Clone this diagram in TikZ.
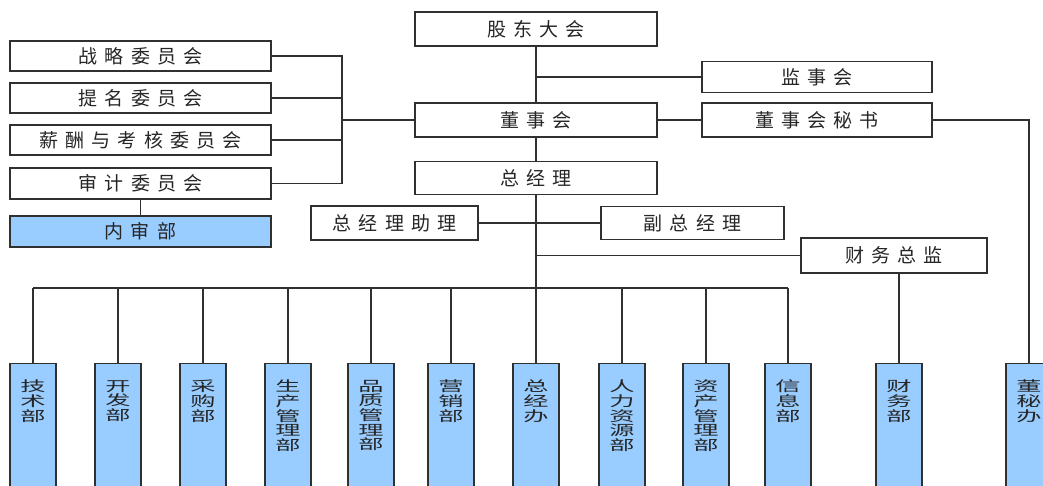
\documentclass[tikz,border=0pt]{standalone}
\usepackage{fontspec}
\newfontfamily\cjk{Noto Sans CJK SC}
\newfontfamily\cjkwide[LetterSpace=37]{Noto Sans CJK SC}
\usepackage{tikz}
\usetikzlibrary{positioning}

\definecolor{deptblue}{HTML}{99CCFF}
\definecolor{linec}{HTML}{303030}

\begin{document}
\begin{tikzpicture}[
    x=1pt, y=-1pt,
    unit/.style={rectangle,draw=linec,line width=1.2pt,fill=white,inner sep=0pt,
        font=\cjkwide\fontsize{19}{21}\selectfont,text=black!85},
    dept/.style={rectangle,draw=linec,line width=1.2pt,fill=deptblue,inner sep=0pt,
        minimum width=46pt,minimum height=140pt,anchor=north},
    vlabel/.style={anchor=north,inner sep=0pt,align=center,xscale=1.8,yshift=-17pt,
        font=\cjk\fontsize{14}{14.6}\selectfont,text=black!85},
    link/.style={draw=linec,line width=1.2pt}
]
    \useasboundingbox (0,0) rectangle (1043,486);
    \clip (0,0) rectangle (1043,486);

    % board and management
    \node[unit,minimum width=242pt,minimum height=34pt] (gd)   at (536,29)    {股东大会};
    \node[unit,minimum width=230pt,minimum height=31pt] (jsh)  at (817,77)    {监事会};
    \node[unit,minimum width=242pt,minimum height=34pt] (dsh)  at (536,120)   {董事会};
    \node[unit,minimum width=230pt,minimum height=34pt] (dms)  at (817,120)   {董事会秘书};
    \node[unit,minimum width=242pt,minimum height=33pt] (zjl)  at (536,178)   {总经理};
    \node[unit,minimum width=167pt,minimum height=34pt] (zlzl) at (394.5,223) {总经理助理};
    \node[unit,minimum width=183pt,minimum height=33pt] (fzjl) at (692.5,223) {副总经理};
    \node[unit,minimum width=186pt,minimum height=35pt] (cwzj) at (894,255.5) {财务总监};

    % committees
    \node[unit,minimum width=261pt,minimum height=30pt] (zlwy) at (140.5,56)    {战略委员会};
    \node[unit,minimum width=261pt,minimum height=30pt] (tmwy) at (140.5,98)    {提名委员会};
    \node[unit,minimum width=261pt,minimum height=30pt] (xcwy) at (140.5,140)   {薪酬与考核委员会};
    \node[unit,minimum width=261pt,minimum height=31pt] (sjwy) at (140.5,183.5) {审计委员会};
    \node[unit,fill=deptblue,minimum width=261pt,minimum height=31pt] (nsb) at (140.5,231.5) {内审部};

    % departments
    \node[dept,label={[vlabel]north:技\\术\\部}]         (jsb) at (33,363)  {};
    \node[dept,label={[vlabel]north:开\\发\\部}]         (kfb) at (118,363) {};
    \node[dept,label={[vlabel]north:采\\购\\部}]         (cgb) at (203,363) {};
    \node[dept,label={[vlabel]north:生\\产\\管\\理\\部}] (scb) at (288,363) {};
    \node[dept,label={[vlabel]north:品\\质\\管\\理\\部}] (pzb) at (371,363) {};
    \node[dept,label={[vlabel]north:营\\销\\部}]         (yxb) at (451,363) {};
    \node[dept,label={[vlabel]north:总\\经\\办}]         (zjb) at (536,363) {};
    \node[dept,label={[vlabel]north:人\\力\\资\\源\\部}] (rlb) at (622,363) {};
    \node[dept,label={[vlabel]north:资\\产\\管\\理\\部}] (zcb) at (706,363) {};
    \node[dept,label={[vlabel]north:信\\息\\部}]         (xxb) at (788,363) {};
    \node[dept,label={[vlabel]north:财\\务\\部}]         (cwb) at (899,363) {};
    \node[dept,label={[vlabel]north:董\\秘\\办}]         (dmb) at (1029,363){};

    \coordinate (cbus) at (342,120);
    \coordinate (dbus) at (33,288);

    % main line
    \draw[link] (gd) -- (dsh);
    \draw[link] (dsh) -- (zjl);
    \draw[link] (zjl) -- (zjb);
    \draw[link] (jsh.west) -- (jsh.west -| gd);
    \draw[link] (dsh) -- (dms);
    \draw[link] (dms.east) -| (dmb.north);
    \draw[link] (zlzl) -- (fzjl);
    \draw[link] (cwzj.west) -- (cwzj.west -| zjl);
    \draw[link] (cwb.north) -- (cwb.north |- cwzj.south);

    % committees to board
    \draw[link] (zlwy.east) -| (cbus);
    \draw[link] (sjwy.east) -| (cbus);
    \draw[link] (tmwy.east) -- (tmwy.east -| cbus);
    \draw[link] (xcwy.east) -- (xcwy.east -| cbus);
    \draw[link] (cbus) -- (dsh.west);
    \draw[link] (sjwy) -- (nsb);

    % departments bus
    \draw[link] (dbus) -- (dbus -| xxb);
    \foreach \d in {jsb,kfb,cgb,scb,pzb,yxb,rlb,zcb,xxb}
        \draw[link] (\d.north) -- (\d.north |- dbus);
\end{tikzpicture}
\end{document}
